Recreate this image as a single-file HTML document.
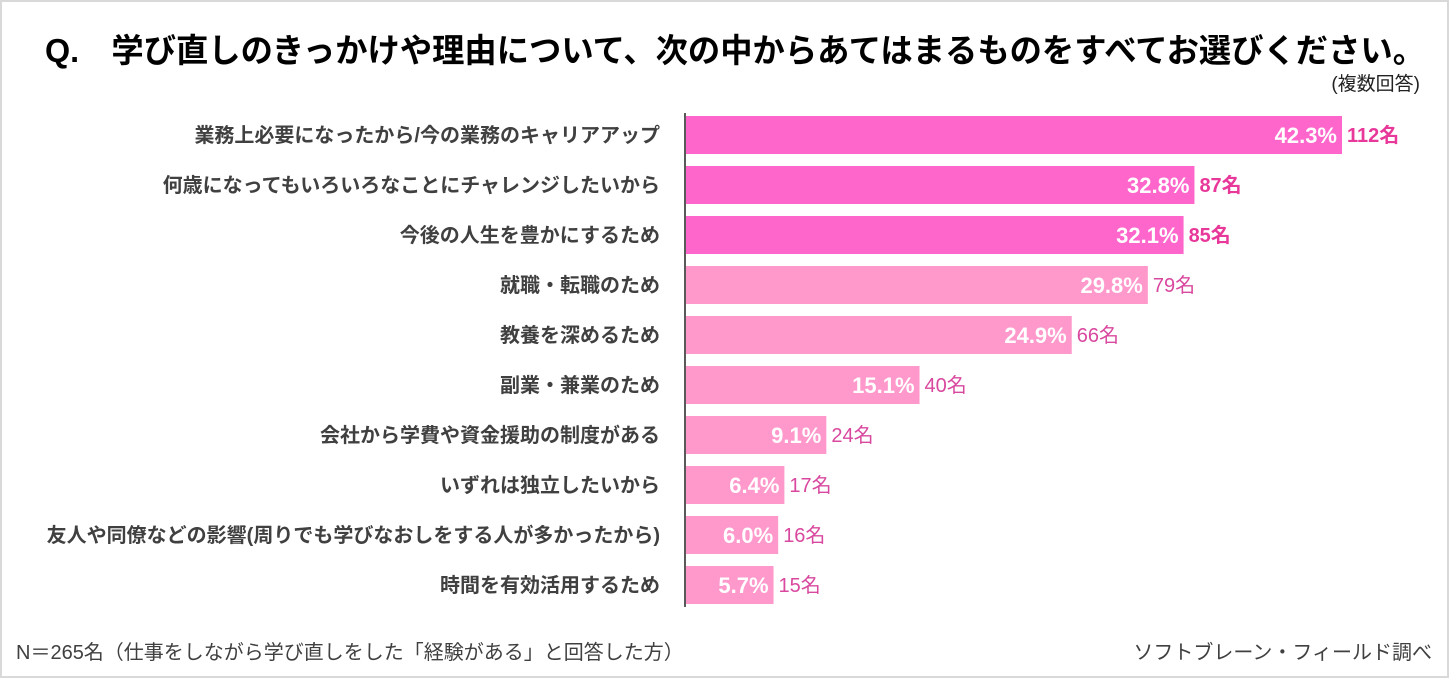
<!DOCTYPE html>
<html><head><meta charset="utf-8"><style>
html,body{margin:0;padding:0;background:#fff}
svg{display:block;font-family:"Liberation Sans","Noto Sans CJK JP",sans-serif}
</style></head><body>
<svg id="c" width="1450" height="679" viewBox="0 0 1450 679">
<rect x="1" y="1" width="1447" height="676" fill="#fff" stroke="#d9d9d9" stroke-width="2"/>
<text x="45" y="62" font-size="33" font-weight="bold" fill="#000" textLength="1380" lengthAdjust="spacingAndGlyphs">Q.　学び直しのきっかけや理由について、次の中からあてはまるものをすべてお選びください。</text>
<text x="1420" y="90" font-size="19" fill="#222" text-anchor="end">(複数回答)</text>
<g id="bars"></g>
<line x1="685" y1="113" x2="685" y2="607" stroke="#595959" stroke-width="2"/>
<text x="16" y="659" font-size="20" fill="#404040">N＝265名（仕事をしながら学び直しをした「経験がある」と回答した方）</text>
<text x="1432" y="659" font-size="20" fill="#404040" text-anchor="end">ソフトブレーン・フィールド調べ</text>
</svg>
<script>
const categories=["業務上必要になったから/今の業務のキャリアアップ","何歳になってもいろいろなことにチャレンジしたいから","今後の人生を豊かにするため","就職・転職のため","教養を深めるため","副業・兼業のため","会社から学費や資金援助の制度がある","いずれは独立したいから","友人や同僚などの影響(周りでも学びなおしをする人が多かったから)","時間を有効活用するため"];
const percents=[42.3,32.8,32.1,29.8,24.9,15.1,9.1,6.4,6.0,5.7];
const counts=[112,87,85,79,66,40,24,17,16,15];
const highlighted=[true,true,true,false,false,false,false,false,false,false];
const NS="http://www.w3.org/2000/svg";
const g=document.getElementById("bars");
const x0=685, scale=(1342-685)/42.3, y0=135, step=50, bh=38;
const xp=v=>x0+v*scale;
function mk(t,a){const e=document.createElementNS(NS,t);for(const k in a)e.setAttribute(k,a[k]);g.appendChild(e);return e;}
categories.forEach((c,i)=>{
 const cy=y0+i*step, xe=xp(percents[i]);
 const hi=highlighted[i];
 const lab=mk("text",{x:660,y:cy+7,"font-size":20,"font-weight":"bold",fill:"#404040","text-anchor":"end"});
 lab.textContent=c;
 
 
 const r=mk("rect",{x:x0,y:cy-bh/2,width:xe-x0,height:bh,fill:hi?"#ff66cc":"#ff99cc"});
 
 
 const p=mk("text",{x:xe-5,y:cy+8,"font-size":22,"font-weight":"bold",fill:"#fff","text-anchor":"end"});
 p.textContent=percents[i].toFixed(1)+"%";
 
 
 const n=mk("text",{x:xe+5,y:cy+7,"font-size":20,"font-weight":hi?"bold":"normal",fill:hi?"#e8389a":"#d9489f"});
 n.textContent=counts[i]+"名";
 
 
});
</script>
</body></html>
